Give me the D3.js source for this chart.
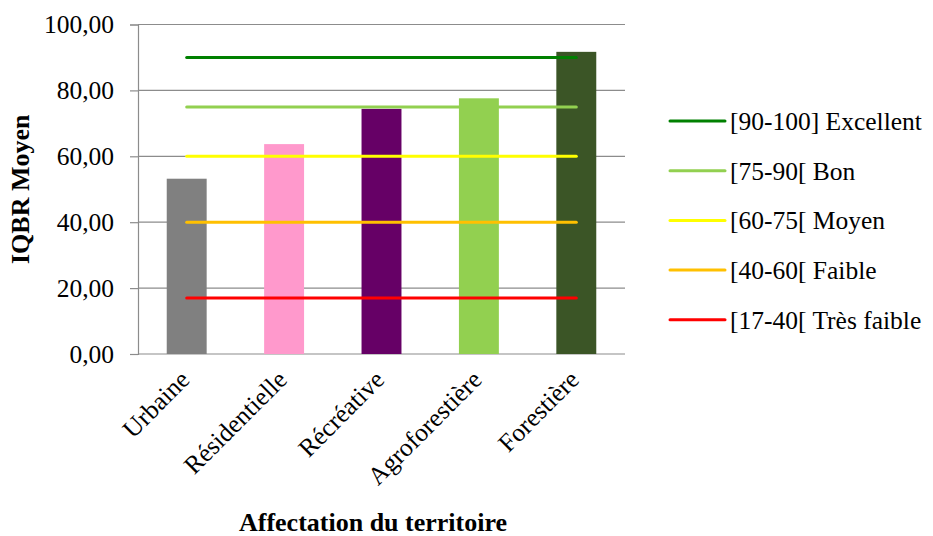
<!DOCTYPE html>
<html>
<head>
<meta charset="utf-8">
<script src="https://cdn.jsdelivr.net/npm/d3@7"></script>
<style>
  body { margin: 0; background: #fff; }
  svg text { font-family: "Liberation Serif", "Times New Roman", serif; fill: #000; }
</style>
</head>
<body>
<div id="chart"></div>
<script>
// categories and mean values
var categories = ["Urbaine", "Résidentielle", "Récréative", "Agroforestière", "Forestière"];
var iqbrValues = [53.2, 63.7, 74.4, 77.6, 91.7];
var barColors = ["#808080", "#ff99cc", "#660066", "#92d050", "#3b5526"];

// quality classes drawn as horizontal lines
var classLabels = ["[90-100] Excellent", "[75-90[ Bon", "[60-75[ Moyen", "[40-60[ Faible", "[17-40[ Très faible"];
var classValues = [90, 75, 60, 40, 17];
var classColors = ["#008000", "#92d050", "#ffff00", "#ffc000", "#ff0000"];

var yTicks = [0, 20, 40, 60, 80, 100];

var width = 933, height = 536;
var margin = { left: 138, right: 308, top: 24.5, bottom: 182 };

var svg = d3.select("#chart").append("svg")
	.attr("width", width)
	.attr("height", height);

var x = d3.scaleBand()
	.domain(categories)
	.range([margin.left, width - margin.right])
	.paddingInner(0.59)
	.paddingOuter(0.295);

var y = d3.scaleLinear()
	.domain([0, 100])
	.range([height - margin.bottom, margin.top]);

// gridlines
svg.append("g")
	.selectAll("line")
	.data(yTicks)
	.enter()
	.append("line")
	.attr("x1", margin.left)
	.attr("x2", width - margin.right)
	.attr("y1", function (d) { return y(d); })
	.attr("y2", function (d) { return y(d); })
	.attr("stroke", "#8c8c8c")
	.attr("stroke-width", 1.2);

// y axis
var yAxis = svg.append("g")
	.attr("transform", "translate(" + margin.left + ",0)")
	.call(d3.axisLeft(y)
		.tickValues(yTicks)
		.tickSize(8)
		.tickPadding(16)
		.tickFormat(function (d) { return d3.format(".2f")(d).replace(".", ","); }));
yAxis.select(".domain").attr("stroke", "#8c8c8c").attr("stroke-width", 1.2);
yAxis.selectAll(".tick line").attr("stroke", "#8c8c8c").attr("stroke-width", 1.2);
yAxis.selectAll(".tick text")
	.attr("font-size", 25.5)
	.attr("font-family", "Liberation Serif");

// bars
svg.append("g")
	.selectAll("rect")
	.data(iqbrValues)
	.enter()
	.append("rect")
	.attr("x", function (d, i) { return x(categories[i]); })
	.attr("y", function (d) { return y(d); })
	.attr("width", x.bandwidth())
	.attr("height", function (d) { return y(0) - y(d); })
	.attr("fill", function (d, i) { return barColors[i]; });

// class lines (from first to last category centre)
var line = d3.line()
	.x(function (d) { return x(d) + x.bandwidth() / 2; });

svg.append("g")
	.selectAll("path")
	.data(classValues)
	.enter()
	.append("path")
	.attr("d", function (v) {
		return line.y(function () { return y(v); })(categories);
	})
	.attr("fill", "none")
	.attr("stroke", function (d, i) { return classColors[i]; })
	.attr("stroke-width", 3)
	.attr("stroke-linecap", "round");

// category labels
svg.append("g")
	.selectAll("text")
	.data(categories)
	.enter()
	.append("text")
	.attr("transform", function (d) {
		return "translate(" + (x(d) + x.bandwidth() / 2 - 2) + "," + (y(0) + 21) + ") rotate(-45)";
	})
	.attr("text-anchor", "end")
	.attr("dy", "0.35em")
	.attr("font-size", 25.5)
	.text(function (d) { return d; });

// axis titles
svg.append("text")
	.attr("transform", "translate(29," + ((y(0) + y(100)) / 2) + ") rotate(-90)")
	.attr("text-anchor", "middle")
	.attr("font-weight", "bold")
	.attr("font-size", 26)
	.text("IQBR Moyen");

svg.append("text")
	.attr("x", 373)
	.attr("y", 531)
	.attr("text-anchor", "middle")
	.attr("font-weight", "bold")
	.attr("font-size", 26)
	.text("Affectation du territoire");

// legend
var legend = svg.append("g")
	.selectAll("g")
	.data(classLabels)
	.enter()
	.append("g")
	.attr("transform", function (d, i) { return "translate(670," + (121 + i * 49.7) + ")"; });

legend.append("line")
	.attr("x1", 0)
	.attr("x2", 55)
	.attr("stroke", function (d, i) { return classColors[i]; })
	.attr("stroke-width", 3)
	.attr("stroke-linecap", "round");

legend.append("text")
	.attr("x", 60)
	.attr("dy", "0.35em")
	.attr("font-size", 25.5)
	.text(function (d) { return d; });
</script>
</body>
</html>
